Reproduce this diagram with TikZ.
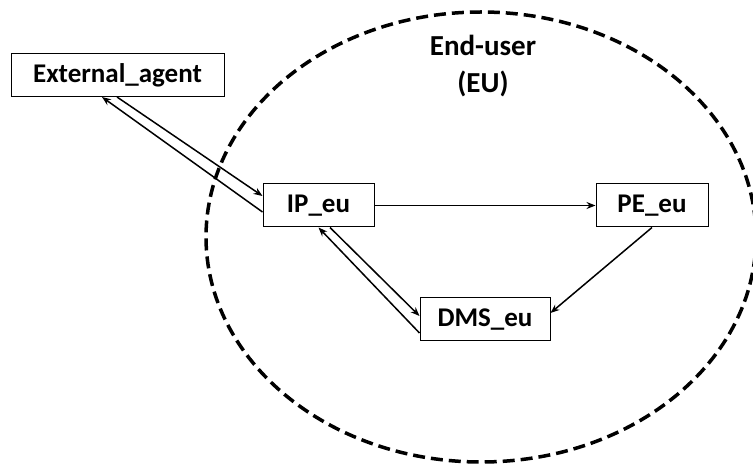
\documentclass[tikz,border=0pt]{standalone}
\usepackage{fontspec}
\setmainfont{Carlito}
\usepackage{tikz}
\usetikzlibrary{positioning,arrows.meta}

\begin{document}
\begin{tikzpicture}[
  x=1pt,y=-1pt,
  box/.style={draw,line width=1pt,minimum height=43pt,inner sep=0pt,align=center,font=\fontsize{27}{32}\selectfont\bfseries},
  arr/.style={-{Stealth[length=9pt,width=7pt]},line width=1.5pt},
  zone/.style={dashed,dash pattern=on 12pt off 6pt,line width=3.5pt}]
  \useasboundingbox (0,0) rectangle (753,465);
  % end-user boundary
  \draw[zone] (481,237) ellipse [x radius=275, y radius=225];
  \node (eu) [align=center,font=\fontsize{29}{37}\selectfont\bfseries] at (483,66) {End-user\\(EU)};
  % components
  \node (ext) [box,minimum width=213pt] at (117.5,75) {External\_agent};
  \node (ip)  [box,minimum width=111pt] at (318.5,205.5) {IP\_eu};
  \node (pe)  [box,minimum width=112pt] at (652,205.5) {PE\_eu};
  \node (dms) [box,minimum width=130pt] at (485,319.5) {DMS\_eu};
  % flows
  \draw[arr] ([yshift=-6.5pt]ip.west) -- ([xshift=-15.5pt]ext.south);
  \draw[arr] ([xshift=-0.5pt]ext.south) -- ([yshift=9.5pt]ip.west);
  \draw[arr] (ip) -- (pe);
  \draw[arr] ([xshift=11.5pt]ip.south) -- ([yshift=3.5pt]dms.west);
  \draw[arr] ([yshift=-13.5pt]dms.west) -- (ip.south);
  \draw[arr] (pe.south) -- ([yshift=6.5pt]dms.east);
\end{tikzpicture}
\end{document}
